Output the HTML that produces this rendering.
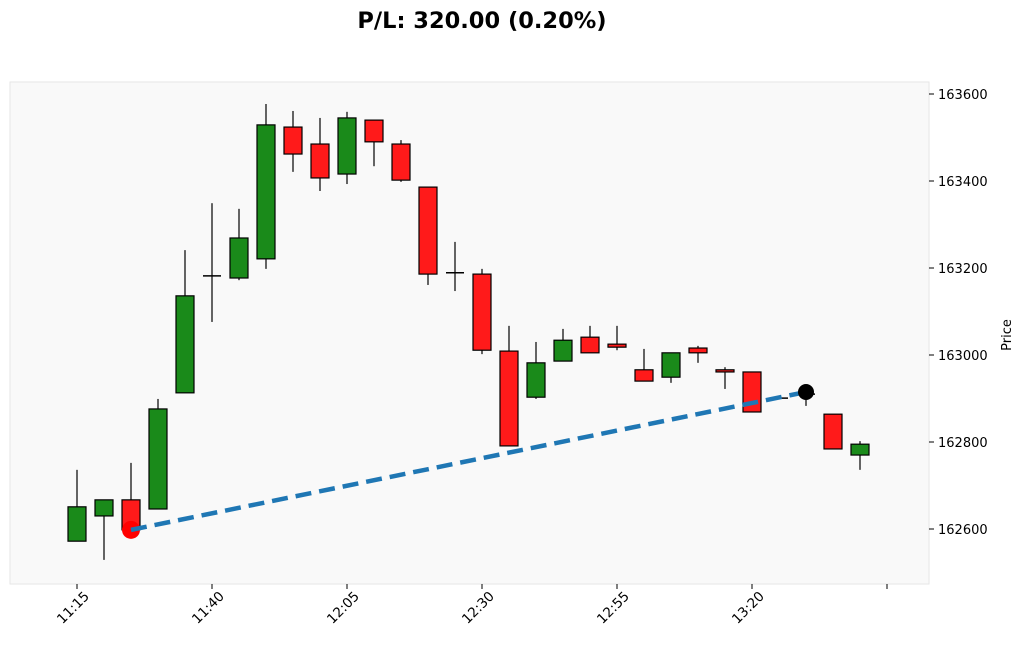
<!DOCTYPE html>
<html><head><meta charset="utf-8"><style>
body{margin:0;background:#fff;font-family:"Liberation Sans","DejaVu Sans",sans-serif;}
</style></head><body>
<svg id="chart" width="1024" height="644" xmlns="http://www.w3.org/2000/svg" font-family="DejaVu Sans, Liberation Sans, sans-serif">
<text x="482" y="28" text-anchor="middle" font-size="22.5" font-weight="bold">P/L: 320.00 (0.20%)</text>
<rect x="10" y="82" width="919" height="502" fill="#f9f9f9" stroke="#e6e6e6"/>
<g id="grid"></g>
<g id="candles"></g>
<g id="trade"></g>
<g id="axes"></g>
<text x="1011" y="335" font-size="13" text-anchor="middle" transform="rotate(-90 1011 335)">Price</text>
</svg>
<script>
const times=["11:15","11:20","11:25","11:30","11:35","11:40","11:45","11:50","11:55","12:00","12:05","12:10","12:15","12:20","12:25","12:30","12:35","12:40","12:45","12:50","12:55","13:00","13:05","13:10","13:15","13:20","13:25","13:30","13:35","13:40"];
const opens=[162572,162630,162667,162646,162913,163182,163177,163221,163524,163485,163416,163540,163485,163386,163189,163186,163009,162903,162986,163041,163025,162966,162949,163016,162966,162961,162901,162910,162864,162770];
const highs=[162736,162667,162752,162899,163241,163349,163336,163577,163561,163545,163559,163540,163494,163386,163260,163198,163067,163030,163060,163067,163067,163014,163005,163021,162972,162961,162903,162929,162864,162802];
const lows=[162572,162529,162598,162646,162913,163076,163172,163198,163421,163377,163393,163434,163398,163161,163147,163002,162791,162899,162986,163005,163011,162940,162936,162982,162922,162869,162899,162883,162784,162736];
const closes=[162651,162667,162598,162876,163136,163182,163269,163529,163462,163407,163545,163490,163402,163186,163189,163011,162791,162982,163034,163005,163018,162940,163005,163005,162961,162869,162901,162910,162784,162795];
const yTicks=[162600,162800,163000,163200,163400,163600];
const xTickLabels=["11:15","11:40","12:05","12:30","12:55","13:20",""];
const tradeEntry={i:2,price:162598};
const tradeExit={i:27,price:162915};
const NS="http://www.w3.org/2000/svg";
function y(v){return 529-(v-162600)*0.435;}
function x(i){return 77+i*27;}
function el(t,a,p){const e=document.createElementNS(NS,t);for(const k in a)e.setAttribute(k,a[k]);document.getElementById(p).appendChild(e);return e;}
times.forEach((t,i)=>{
  const o=opens[i],c=closes[i],up=c>o;
  const w=el("line",{x1:x(i),x2:x(i),y1:y(highs[i]),y2:y(lows[i]),stroke:"#000","stroke-width":1.2},"candles");
  
  
  if(Math.abs(o-c)<3){
    const d=el("line",{x1:x(i)-9,x2:x(i)+9,y1:y(c),y2:y(c),stroke:"#000","stroke-width":1.5},"candles");
    
    
  } else {
    const top=y(Math.max(o,c)),h=Math.abs(y(o)-y(c));
    const b=el("rect",{x:x(i)-9,y:top,width:18,height:Math.max(h,2),fill:up?"#1a8a1a":"#ff1a1a",stroke:"#000","stroke-width":1.2},"candles");
    
    
  }
});
const tl=el("line",{x1:x(tradeEntry.i),y1:y(tradeEntry.price),x2:x(tradeExit.i),y2:y(tradeExit.price),stroke:"#1f77b4","stroke-width":4.5,"stroke-dasharray":"16 8"},"trade");


const en=el("circle",{cx:x(tradeEntry.i),cy:y(tradeEntry.price),r:9,fill:"#ff0000"},"trade");


document.getElementById("trade").insertBefore(en,tl);
const ex=el("circle",{cx:x(tradeExit.i),cy:y(tradeExit.price),r:8,fill:"#000"},"trade");


yTicks.forEach(v=>{
  const t=el("line",{x1:929,x2:934,y1:y(v),y2:y(v),stroke:"#000"},"axes");
  
  
  const l=el("text",{x:938,y:y(v)+5,"font-size":13},"axes");
  l.textContent=v;
  
  
});
xTickLabels.forEach((s,k)=>{
  const px=x(k*5);
  const t=el("line",{x1:px,x2:px,y1:584,y2:589,stroke:"#000"},"axes");
  
  
  const l=el("text",{x:px+13,y:597,"font-size":13.5,"text-anchor":"end",transform:`rotate(-45 ${px+13} 597)`},"axes");
  l.textContent=s;
  
  
});
</script>
</body></html>
